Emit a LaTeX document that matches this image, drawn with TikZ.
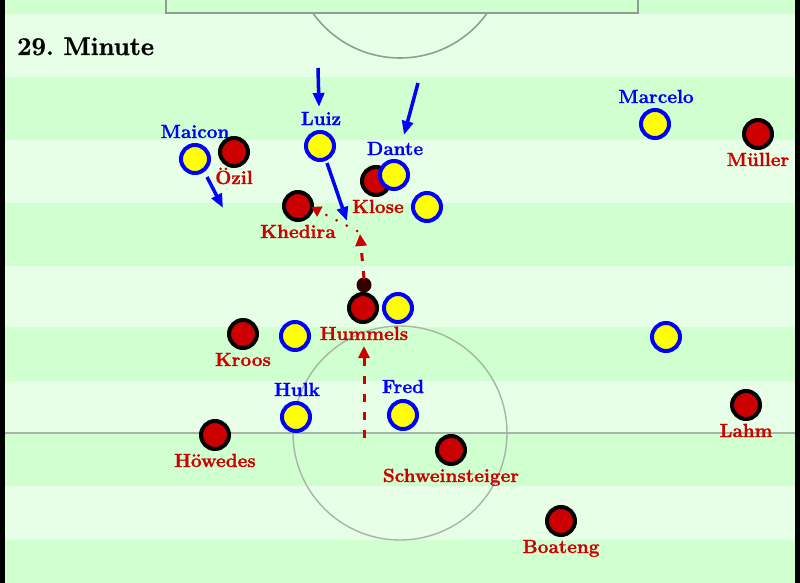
\documentclass[tikz,border=0pt]{standalone}
\usepackage{fontspec}
\usetikzlibrary{arrows.meta}
\newfontfamily\lblfont{Latin Modern Roman}[BoldFeatures={FakeBold=1.2}]
\definecolor{lightg}{HTML}{E6FFE6}
\definecolor{darkg}{HTML}{D0FFD0}
\definecolor{gerred}{HTML}{CC0000}
\definecolor{brablue}{HTML}{0000FF}
\definecolor{brayel}{HTML}{FFFF00}
\definecolor{ballc}{HTML}{330000}
\definecolor{lineg}{HTML}{8F9F8F}
\definecolor{lineg2}{HTML}{A8B4A8}
\begin{document}
\begin{tikzpicture}[x=1pt,y=-1pt,
  ger/.style={circle,fill=gerred,draw=black,line width=4pt,minimum size=28pt,inner sep=0pt},
  bra/.style={circle,fill=brayel,draw=brablue,line width=4pt,minimum size=28pt,inner sep=0pt},
  ballst/.style={circle,fill=ballc,minimum size=15pt,inner sep=0pt},
  lbl/.style={anchor=base,inner sep=0pt,font=\lblfont\fontsize{19}{19}\selectfont\bfseries},
  gername/.style={lbl,text=gerred},
  braname/.style={lbl,text=brablue},
  run/.style={brablue,line width=3.5pt,-{Triangle[length=14pt,width=11pt]}},
  pass/.style={gerred,line width=3pt,dash pattern=on 8pt off 10pt,-{Triangle[length=12pt,width=11pt]}},
  dotpass/.style={gerred,line width=3pt,line cap=round,dash pattern=on 0pt off 11.5pt,-{Triangle[length=10pt,width=11pt]}},
  pitchline/.style={lineg,line width=1.6pt},
  pitchline2/.style={lineg2,line width=1.4pt}]
\useasboundingbox (0,0) rectangle (800,583);
% stripes
\fill[lightg] (0,0) rectangle (800,583);
\foreach \a/\b in {0/14,77/140,203/266,327/381,433/486,540/583}
  \fill[darkg] (0,\a) rectangle (800,\b);
% pitch markings
\draw[pitchline] (166,-5) -- (166,13) -- (638,13) -- (638,-5);
\begin{scope}
  \clip (0,13) rectangle (800,100);
  \draw[pitchline] (400,-49) circle[radius=107];
\end{scope}
\draw[pitchline2] (0,433) -- (800,433);
\draw[pitchline2] (400,433) circle[radius=107];
% borders
\fill[black] (0,0) rectangle (5,583);
\fill[black] (795,0) rectangle (800,583);
% title
\node[anchor=base west,inner sep=0pt,font=\lblfont\fontsize{25.5}{25.5}\selectfont\bfseries] (title) at (17,55) {29.\ Minute};
% coordinates for free arrow ends
\coordinate (r1s) at (318,68);  \coordinate (r1e) at (319,107);
\coordinate (r2s) at (418,83);  \coordinate (r2e) at (404,135);
\coordinate (r3s) at (327,163); \coordinate (r3e) at (347,221);
\coordinate (r4s) at (207,177); \coordinate (r4e) at (223,208);
\coordinate (p1s) at (364,438); \coordinate (p1e) at (364,346);
\coordinate (p2s) at (364,279); \coordinate (p2e) at (360,234);
\coordinate (p3s) at (357,231); \coordinate (p3e) at (311,207);
% ball
\node[ballst] (ball) at (364,285) {};
% German players
\node[ger] (ozil) at (234,152) {};
\node[ger] (khedira) at (298,206) {};
\node[ger] (klose) at (376,181) {};
\node[ger] (muller) at (758,134) {};
\node[ger] (hummels) at (363,308) {};
\node[ger] (kroos) at (243,334) {};
\node[ger] (howedes) at (215,435) {};
\node[ger] (schweini) at (451,450) {};
\node[ger] (lahm) at (746,405) {};
\node[ger] (boateng) at (561,521) {};
% Brazilian players
\node[bra] (maicon) at (195,159) {};
\node[bra] (luiz) at (320,146) {};
\node[bra] (dante) at (394,175) {};
\node[bra] (bra4) at (427,207) {};
\node[bra] (marcelo) at (655,124) {};
\node[bra] (bra6) at (398,308) {};
\node[bra] (bra7) at (295,336) {};
\node[bra] (bra8) at (666,337) {};
\node[bra] (hulk) at (296,417) {};
\node[bra] (fred) at (403,415) {};
% labels
\node[gername] (lozil) at (234,184) {Özil};
\node[gername] (lkhedira) at (298,238) {Khedira};
\node[gername] (lklose) at (378,213) {Klose};
\node[gername] (lmuller) at (758,166) {Müller};
\node[gername] (lhummels) at (364,340) {Hummels};
\node[gername] (lkroos) at (243,366) {Kroos};
\node[gername] (lhowedes) at (215,467) {Höwedes};
\node[gername] (lschweini) at (451,482) {Schweinsteiger};
\node[gername] (llahm) at (746,437) {Lahm};
\node[gername] (lboateng) at (561,553) {Boateng};
\node[braname] (lmaicon) at (195,138) {Maicon};
\node[braname] (lluiz) at (321,125) {Luiz};
\node[braname] (ldante) at (395,155) {Dante};
\node[braname] (lmarcelo) at (656,103) {Marcelo};
\node[braname] (lhulk) at (297,396) {Hulk};
\node[braname] (lfred) at (403,393) {Fred};
% arrows
\draw[run] (r1s) -- (r1e);
\draw[run] (r2s) -- (r2e);
\draw[run] (r3s) -- (r3e);
\draw[run] (r4s) -- (r4e);
\draw[pass] (p1s) -- (p1e);
\draw[pass] (p2s) -- (p2e);
\draw[dotpass] (p3s) -- (p3e);
\end{tikzpicture}
\end{document}
